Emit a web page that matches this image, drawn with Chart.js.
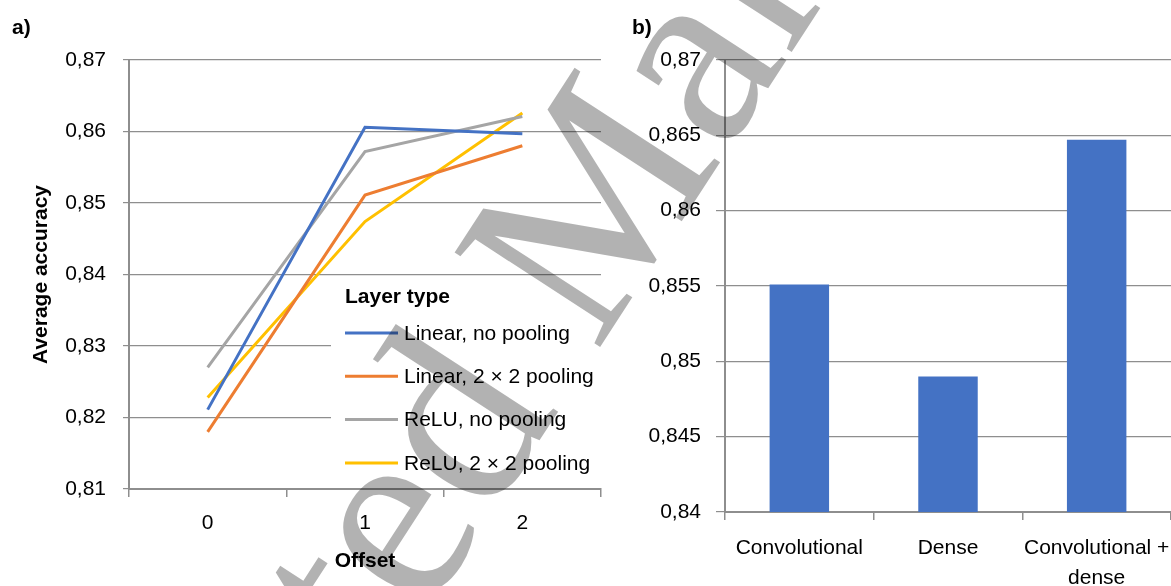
<!DOCTYPE html>
<html>
<head>
<meta charset="utf-8">
<script src="https://cdn.jsdelivr.net/npm/chart.js@4.4.1/dist/chart.umd.min.js"></script>
<style>
  html, body { margin: 0; padding: 0; background: #fff; }
  #wrap { position: relative; width: 1171px; height: 586px; overflow: hidden; }
  #boxA { position: absolute; left: 0; top: 0; width: 615px; height: 586px; }
  #boxB { position: absolute; left: 615px; top: 0; width: 556px; height: 586px; }
  .panel { position: absolute; top: 15px; font: bold 21px 'Liberation Sans', Arial, sans-serif; color: #000; }
  svg.mark { position: absolute; left: 0; top: 0; pointer-events: none; }
  svg.mark text { font-family: 'Liberation Serif', 'Times New Roman', serif; font-size: 265px; fill: #000; fill-opacity: 0.3; }
</style>
</head>
<body>
<div id="wrap">
  <div id="boxA"><canvas id="chartA" width="615" height="586"></canvas></div>
  <div id="boxB"><canvas id="chartB" width="556" height="586"></canvas></div>
  <div class="panel" style="left:12px">a)</div>
  <div class="panel" style="left:632px">b)</div>
  <svg class="mark" width="1171" height="586">
    <text x="15" y="1248" transform="rotate(-57 15 1248)">Accepted Manuscript</text>
  </svg>
</div>
<script>
// Panel a) – accuracy against offset, one line per layer type
const offsets = ['0', '1', '2'];
const layerTypes = ['Linear, no pooling', 'Linear, 2 \u00d7 2 pooling', 'ReLU, no pooling', 'ReLU, 2 \u00d7 2 pooling'];
const linearNoPooling = [0.8211, 0.8606, 0.8597];
const linear2x2Pooling = [0.8180, 0.8511, 0.8580];
const reluNoPooling = [0.8270, 0.8572, 0.8621];
const relu2x2Pooling = [0.8228, 0.8474, 0.8626];
const legendTitle = 'Layer type';

// Panel b) – accuracy per network part
const networkParts = [['Convolutional'], ['Dense'], ['Convolutional +', 'dense']];
const partAccuracy = [0.8551, 0.8490, 0.8647];

const FONT = "'Liberation Sans', Arial, sans-serif";
const GRID = '#8e8e8e';
const lineColors = ['#4472C4', '#ED7D31', '#A5A5A5', '#FFC000'];
const comma = v => Number(v.toFixed(3)).toString().replace('.', ',');

// Legend drawn inside the plot area, on a white box
const insideLegend = {
  id: 'insideLegend',
  afterDraw(chart) {
    const ctx = chart.ctx;
    ctx.save();
    ctx.fillStyle = '#fff';
    ctx.fillRect(331, 277, 273, 209);
    ctx.fillStyle = '#000';
    ctx.textBaseline = 'middle';
    ctx.font = 'bold 21px ' + FONT;
    ctx.fillText(legendTitle, 345, 297);
    ctx.font = '21px ' + FONT;
    chart.data.datasets.forEach((ds, i) => {
      const y = 333 + i * 43.3;
      ctx.strokeStyle = ds.borderColor;
      ctx.lineWidth = 3;
      ctx.beginPath();
      ctx.moveTo(345, y);
      ctx.lineTo(398, y);
      ctx.stroke();
      ctx.fillText(ds.label, 404, y + 1);
    });
    ctx.restore();
  }
};

// Keep the category axis flush with the plot edges, whatever the label widths
const flushX = h => s => { s.height = h; s.paddingLeft = 0; s.paddingRight = 0; };

const seriesA = [linearNoPooling, linear2x2Pooling, reluNoPooling, relu2x2Pooling];

new Chart(document.getElementById('chartA'), {
  type: 'line',
  data: {
    labels: offsets,
    datasets: seriesA.map((vals, i) => ({
      label: layerTypes[i],
      data: vals,
      borderColor: lineColors[i],
      backgroundColor: lineColors[i],
      borderWidth: 3,
      pointRadius: 0,
      tension: 0,
      fill: false
    }))
  },
  options: {
    responsive: false,
    animation: false,
    devicePixelRatio: 1,
    layout: { padding: { left: 25, right: 14, top: 60, bottom: 0 } },
    plugins: { legend: { display: false }, tooltip: { enabled: false } },
    scales: {
      x: {
        type: 'category',
        offset: true,
        grid: { drawOnChartArea: false, drawTicks: true, tickLength: 8, offset: true, color: GRID, lineWidth: 1.5 },
        border: { color: GRID, width: 2 },
        ticks: { color: '#000', font: { family: FONT, size: 21 }, padding: 14 },
        title: { display: true, text: 'Offset', color: '#000', font: { family: FONT, size: 21, weight: 'bold' }, padding: { top: 0, bottom: 12 } },
        afterFit: flushX(97)
      },
      y: {
        min: 0.81,
        max: 0.87,
        ticks: { stepSize: 0.01, color: '#000', font: { family: FONT, size: 21 }, padding: 17, callback: v => comma(v) },
        grid: { color: GRID, lineWidth: 1.2, tickLength: 6 },
        border: { color: GRID, width: 2 },
        title: { display: true, text: 'Average accuracy', color: '#000', font: { family: FONT, size: 21, weight: 'bold' }, padding: { top: 4, bottom: 0 } },
        afterFit(s) { s.width = 104; }
      }
    }
  },
  plugins: [insideLegend]
});

new Chart(document.getElementById('chartB'), {
  type: 'bar',
  data: {
    labels: networkParts,
    datasets: [{
      data: partAccuracy,
      backgroundColor: '#4472C4',
      borderWidth: 0,
      barPercentage: 0.4,
      categoryPercentage: 1
    }]
  },
  options: {
    responsive: false,
    animation: false,
    devicePixelRatio: 1,
    layout: { padding: { left: 0, right: 0, top: 60, bottom: 0 } },
    plugins: { legend: { display: false }, tooltip: { enabled: false } },
    scales: {
      x: {
        grid: { drawOnChartArea: false, drawTicks: true, tickLength: 8, offset: true, color: GRID, lineWidth: 1.5 },
        border: { color: GRID, width: 2 },
        ticks: { color: '#000', font: { family: FONT, size: 21, lineHeight: 1.43 }, padding: 13, maxRotation: 0, autoSkip: false },
        afterFit: flushX(74)
      },
      y: {
        min: 0.84,
        max: 0.87,
        ticks: { stepSize: 0.005, color: '#000', font: { family: FONT, size: 21 }, padding: 15, callback: v => comma(v) },
        grid: { color: GRID, lineWidth: 1.2, tickLength: 9 },
        border: { color: GRID, width: 2 },
        afterFit(s) { s.width = 110; }
      }
    }
  }
});
</script>
</body>
</html>
